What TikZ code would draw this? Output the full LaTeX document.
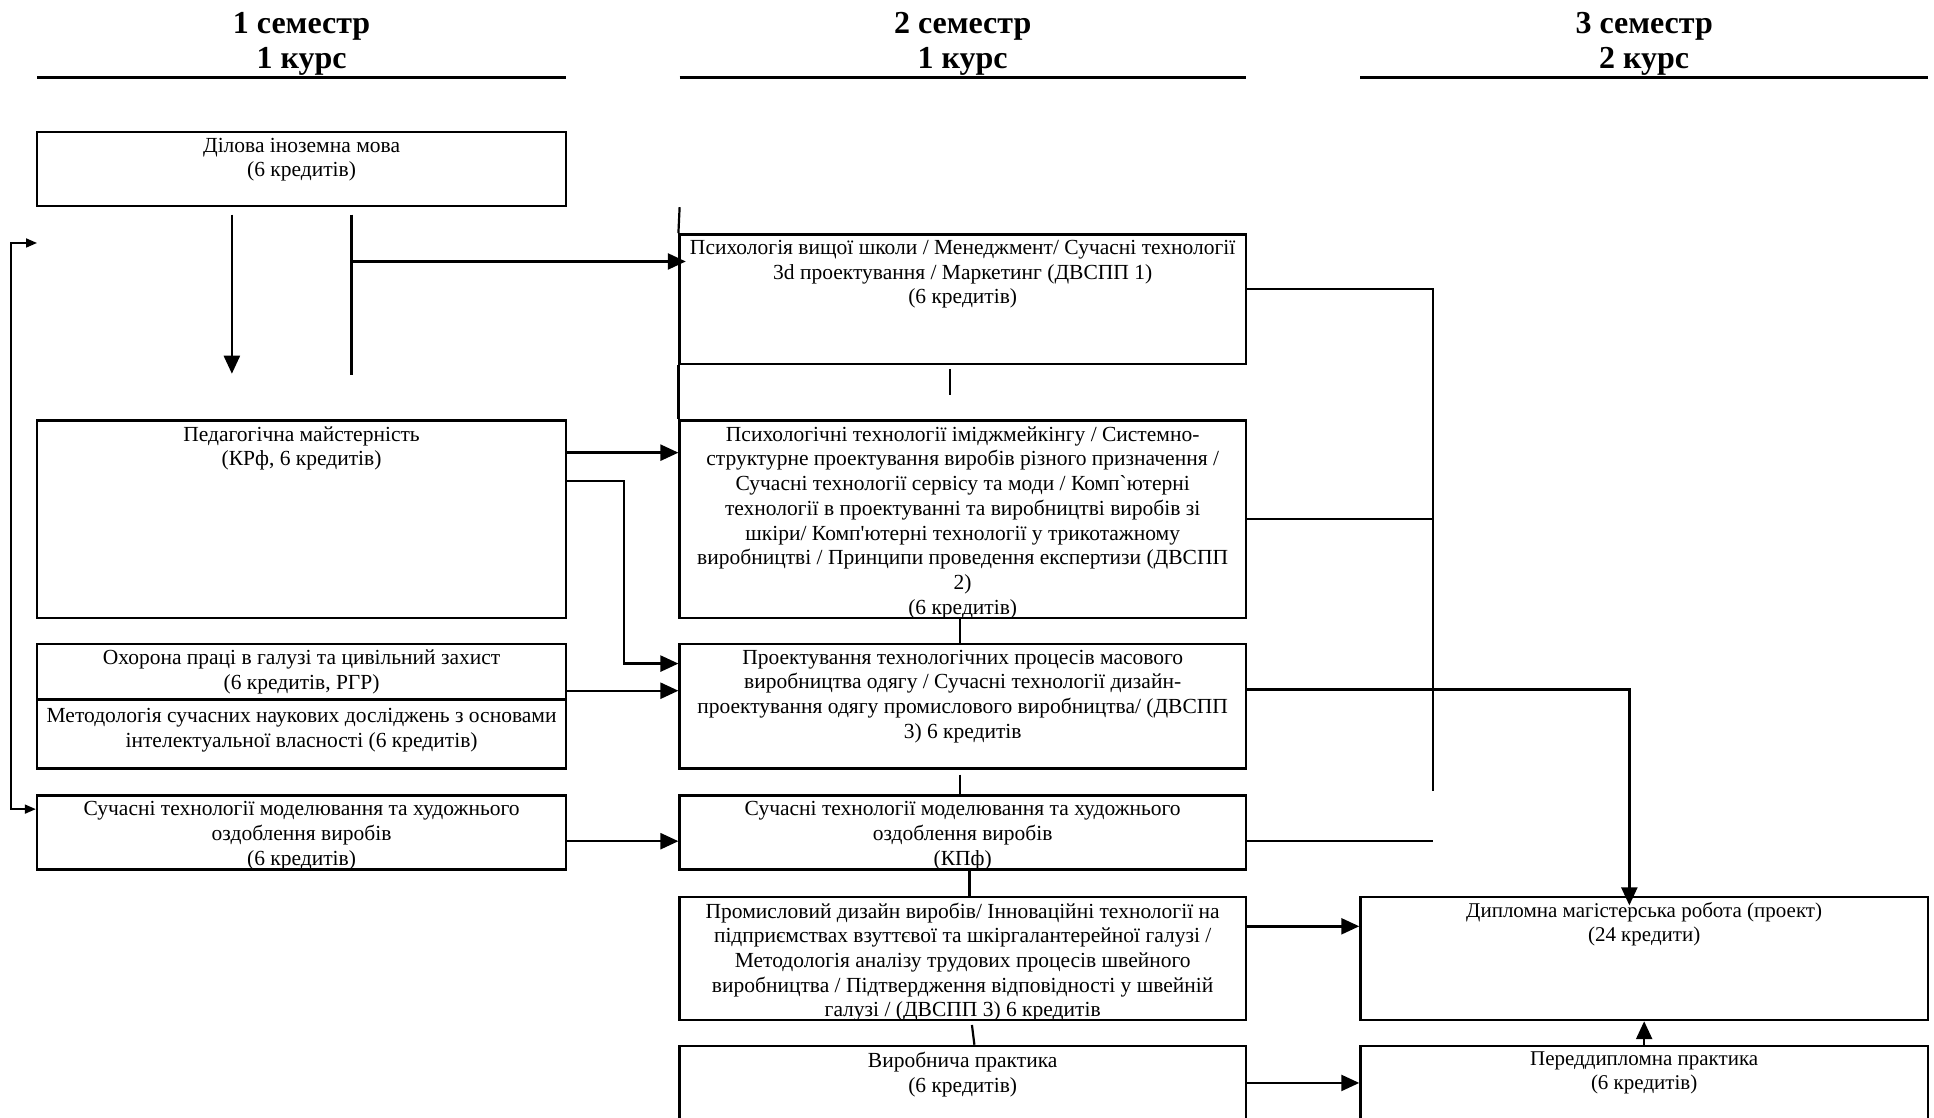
\documentclass[tikz,border=0pt]{standalone}
\usepackage{fontspec}
\newfontfamily\bodyfont{Liberation Serif}
\usetikzlibrary{arrows.meta,fit,calc}
\begin{document}
\begin{tikzpicture}[x=1.2334pt, y=-1.2334pt,
  box/.style={draw, line width=2.4pt, inner sep=0pt, fit={#1}},
  txt/.style={align=center, inner sep=0pt, anchor=north, font=\bodyfont\fontsize{21.5}{24.67}\selectfont},
  rtxt/.style={txt, font=\bodyfont\fontsize{21}{24}\selectfont},
  hdr/.style={align=center, inner sep=0pt, anchor=north, font=\bodyfont\bfseries\fontsize{32}{35}\selectfont},
  ln/.style={line width=2.2pt},
  uline/.style={line width=2.6pt},
  arr/.style={line width=2.4pt, -{Triangle[length=18pt,width=16pt]}},
  sarr/.style={line width=1.8pt, {Triangle[length=11pt,width=9pt]}-{Triangle[length=11pt,width=9pt]}},
]
\useasboundingbox (0,0) rectangle (1568,906);
\clip (0,0) rectangle (1568,906);

% headers
\node[hdr] (h1) at (244.5,9.5) {1 семестр\\1 курс};
\node[hdr] (h2) at (780.5,9.5) {2 семестр\\1 курс};
\node[hdr] (h3) at (1333,9.5) {3 семестр\\2 курс};
\draw[uline] (30,63) -- (459,63);
\draw[uline] (551,63) -- (1010,63);
\draw[uline] (1103,63) -- (1563,63);

% column 1
\node[box={(30,107)(459,167)}] (A) {};
\node[txt] (At) at ([yshift=-7pt]A.north) {Ділова іноземна мова\\(6 кредитів)};
\node[box={(30,341)(459,501)}] (B) {};
\node[txt] (Bt) at ([yshift=-7pt]B.north) {Педагогічна майстерність\\(КРф, 6 кредитів)};
\node[box={(30,522)(459,567)}] (C) {};
\node[txt] (Ct) at ([yshift=-7pt]C.north) {Охорона праці в галузі та цивільний захист\\(6 кредитів, РГР)};
\node[box={(30,567)(459,623)}] (D) {};
\node[txt] (Dt) at ([yshift=-10pt]D.north) {Методологія сучасних наукових досліджень з основами\\інтелектуальної власності (6 кредитів)};
\node[box={(30,645)(459,705)}] (E) {};
\node[txt] (Et) at ([yshift=-7pt]E.north) {Сучасні технології моделювання та художнього\\оздоблення виробів\\(6 кредитів)};

% column 2
\node[box={(551,190)(1010,295)}] (F) {};
\node[txt] (Ft) at ([yshift=-7pt]F.north) {Психологія вищої школи / Менеджмент/ Сучасні технології\\3d проектування / Маркетинг (ДВСПП 1)\\(6 кредитів)};
\node[box={(551,341)(1010,501)}] (G) {};
\node[txt] (Gt) at ([yshift=-7pt]G.north) {Психологічні технології іміджмейкінгу / Системно-\\структурне проектування виробів різного призначення /\\Сучасні технології сервісу та моди / Комп`ютерні\\технології в проектуванні та виробництві виробів зі\\шкіри/ Комп'ютерні технології у трикотажному\\виробництві / Принципи проведення експертизи (ДВСПП\\2)\\(6 кредитів)};
\node[box={(551,522)(1010,623)}] (H) {};
\node[txt] (Ht) at ([yshift=-7pt]H.north) {Проектування технологічних процесів масового\\виробництва одягу / Сучасні технології дизайн-\\проектування одягу промислового виробництва/ (ДВСПП\\3) 6 кредитів};
\node[box={(551,645)(1010,705)}] (I) {};
\node[txt] (It) at ([yshift=-7pt]I.north) {Сучасні технології моделювання та художнього\\оздоблення виробів\\(КПф)};
\node[box={(551,727)(1010,827)}] (J) {};
\node[txt] (Jt) at ([yshift=-7pt]J.north) {Промисловий дизайн виробів/ Інноваційні технології на\\підприємствах взуттєвої та шкіргалантерейної галузі /\\Методологія аналізу трудових процесів швейного\\виробництва / Підтвердження відповідності у швейній\\галузі / (ДВСПП 3) 6 кредитів};
\node[box={(551,848)(1010,940)}] (K) {};
\node[txt] (Kt) at ([yshift=-7pt]K.north) {Виробнича практика\\(6 кредитів)};

% column 3
\node[box={(1103,727)(1563,827)}] (Dip) {};
\node[rtxt] (Dipt) at ([yshift=-7pt]Dip.north) {Дипломна магістерська робота (проект)\\(24 кредити)};
\node[box={(1103,848)(1563,940)}] (Pd) {};
\node[rtxt] (Pdt) at ([yshift=-7pt]Pd.north) {Переддипломна практика\\(6 кредитів)};

% helper coordinates
\coordinate (a1) at (188,174); \coordinate (a2) at (188,303);
\coordinate (b1) at (285,174); \coordinate (b2) at (285,304);
\coordinate (fb1) at (30,197); \coordinate (fbx) at (9,0);
\coordinate (t551) at (551,168);
\coordinate (r212) at (0,212); \coordinate (r234) at (0,234);
\coordinate (r367) at (0,367); \coordinate (r390) at (0,390);
\coordinate (r421) at (0,421); \coordinate (r538) at (0,538);
\coordinate (r559) at (0,559); \coordinate (r560) at (0,560);
\coordinate (r656) at (0,656); \coordinate (r682) at (0,682);
\coordinate (r751) at (0,751); \coordinate (r878) at (0,878);
\coordinate (c506) at (506,0); \coordinate (c770) at (770,0);
\coordinate (c778) at (778,0); \coordinate (c786) at (786,0);
\coordinate (c788) at (788,0); \coordinate (c790) at (790,0);
\coordinate (c1162) at (1162,0); \coordinate (c1321) at (1321,0);
\coordinate (e641) at (1162,641);

% column 1 connectors
\draw[arr] (a1) -- (a2);
\draw[ln] (b1) -- (b2);
\draw[arr] (b1 |- r212) -- ($(F.west |- r212)+(6,0)$);
\draw[sarr] (fb1) -- (fbx |- fb1) -- (fbx |- r656) -- (E.west |- r656);
\draw[arr] (B.east |- r367) -- (G.west |- r367);
\draw[arr] (B.east |- r390) -| (c506 |- r538) -- (H.west |- r538);
\draw[arr] (C.east |- r560) -- (H.west |- r560);
\draw[arr] (E.east |- r682) -- (I.west |- r682);

% column 2 connectors
\draw[ln] (t551) -- (F.north west);
\draw[ln] (F.south west) -- (G.north west);
\draw[ln] ($(F.south -| c770)+(0,3)$) -- ($(G.north -| c770)+(0,-20)$);
\draw[ln] (G.south -| c778) -- (H.north -| c778);
\draw[ln] ($(H.south -| c778)+(0,4)$) -- (I.north -| c778);
\draw[ln] (I.south -| c786) -- (J.north -| c786);
\draw[ln] ($(J.south -| c788)+(0,3)$) -- (K.north -| c790);

% right connectors
\draw[ln] (F.east |- r234) -| (e641);
\draw[ln] (G.east |- r421) -- (c1162 |- r421);
\draw[arr] (H.east |- r559) -| ($(Dip.north -| c1321)+(0,8)$);
\draw[ln] (I.east |- r682) -- (c1162 |- r682);
\draw[arr] (J.east |- r751) -- (Dip.west |- r751);
\draw[arr] (K.east |- r878) -- (Pd.west |- r878);
\draw[arr] (Pd.north) -- (Dip.south);
\end{tikzpicture}
\end{document}
